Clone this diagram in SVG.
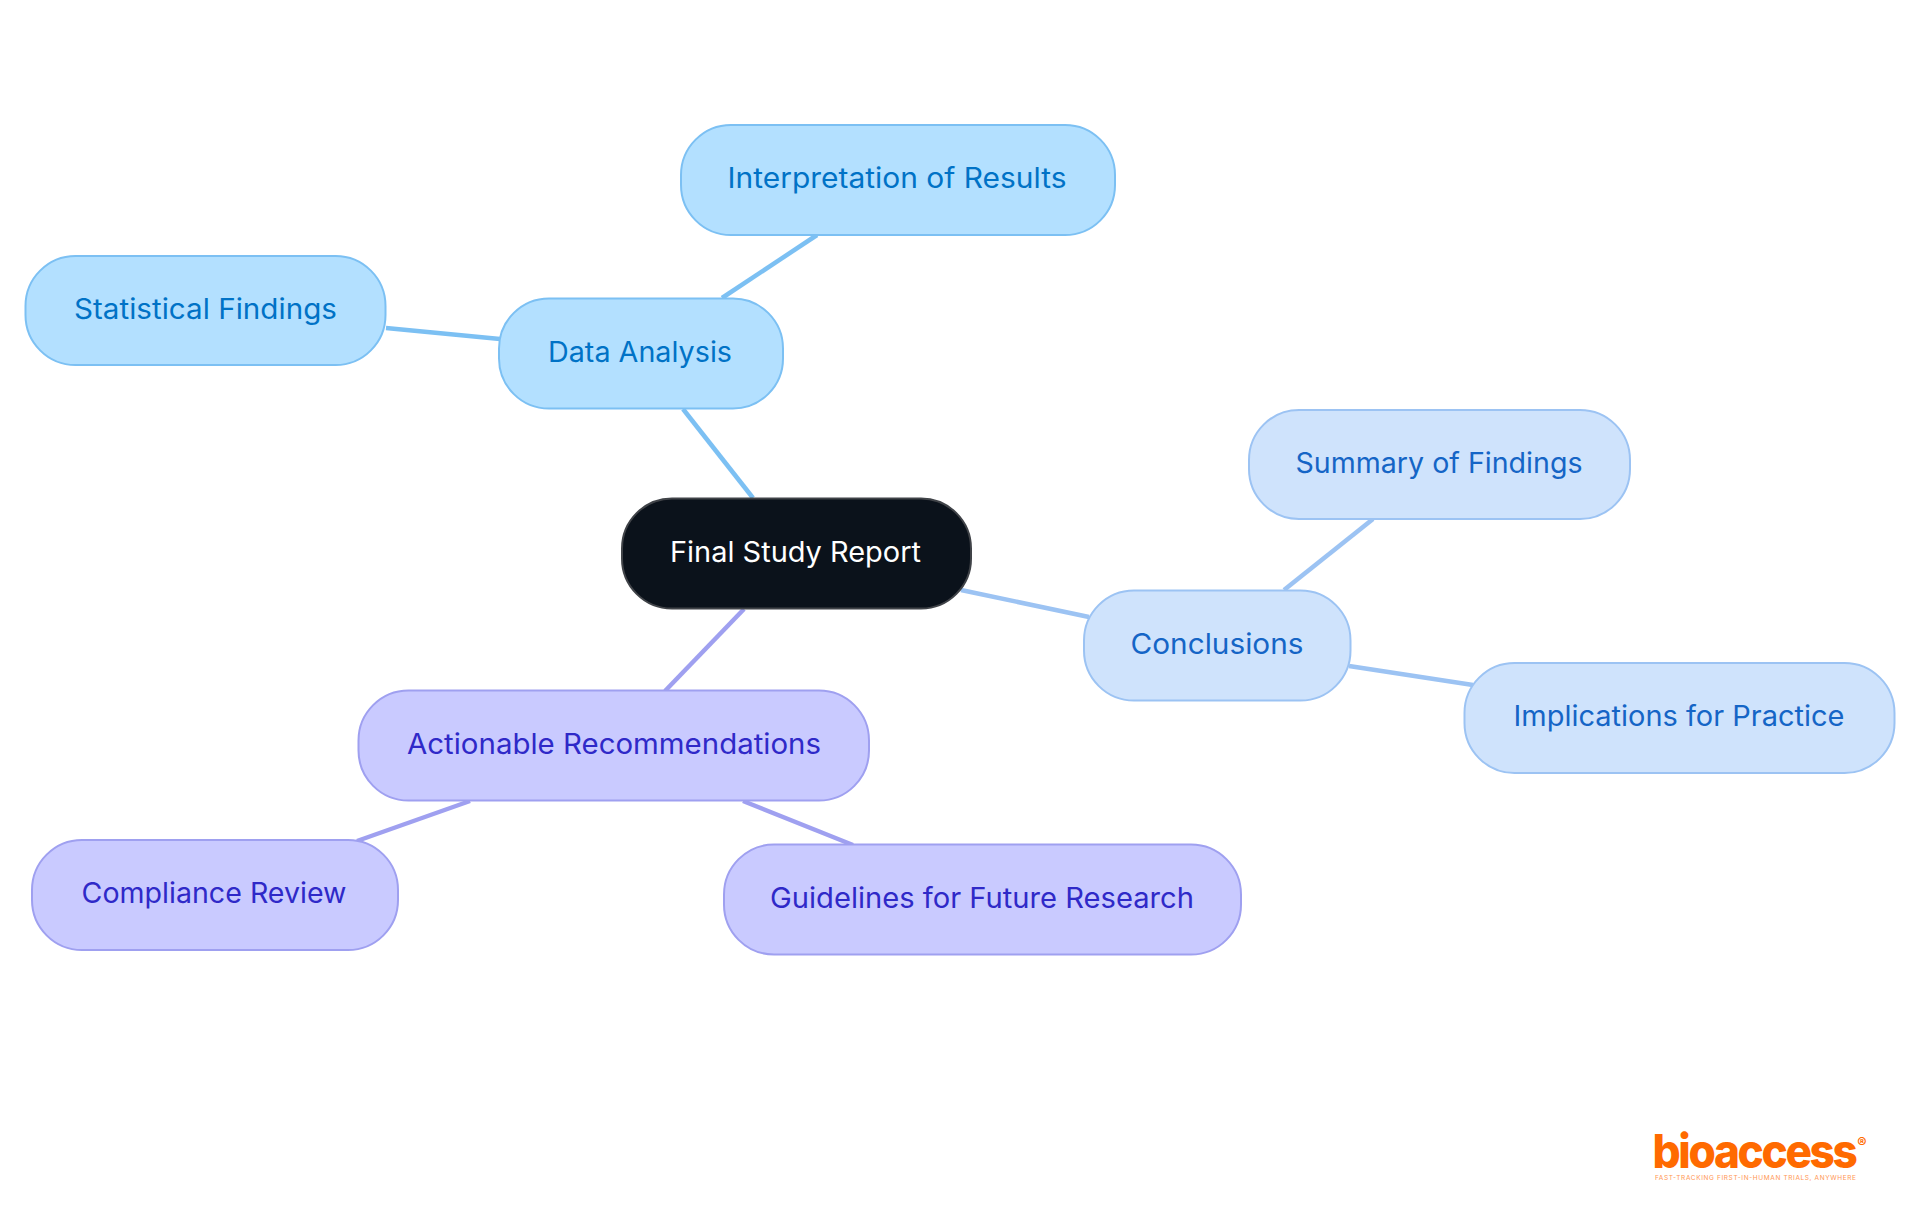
<svg xmlns="http://www.w3.org/2000/svg" width="1920" height="1215" viewBox="0 0 1920 1215">
<style>
text{font-family:Inter,"Noto Sans","Liberation Sans",sans-serif;font-size:28px;text-anchor:middle;dominant-baseline:central}
rect{stroke-width:2}
.e{fill:none;stroke-width:4.500}
.b{fill:#b3e0ff;stroke:#7cc0f3}.bt{fill:#0072c6}
.c{fill:#cfe3fc;stroke:#9cc3f3}.ct{fill:#1565c6}
.p{fill:#c9caff;stroke:#9fa0f0}.pt{fill:#2f29c8}
.be{stroke:#7cc0f3}.ce{stroke:#9cc3f3}.pe{stroke:#9fa0f0}
</style>
<rect width="1920" height="1215" fill="#fff" style="stroke:none"/>
<g id="connectors">
<path class="e be" d="M683 409L753 498"/>
<path class="e be" d="M722 298L817 235"/>
<path class="e be" d="M386 328L500 339"/>
<path class="e ce" d="M961 590L1089 617"/>
<path class="e ce" d="M1284 590L1373 519"/>
<path class="e ce" d="M1349 666L1473 685"/>
<path class="e pe" d="M744 609L665 691"/>
<path class="e pe" d="M470 801L357 841"/>
<path class="e pe" d="M743 801L853 845"/>
</g>
<g id="n-final"><rect x="622" y="498.500" width="349" height="110" rx="50" fill="#0b121b" stroke="#404348"/><text x="795.500" y="552" fill="#fff" textLength="251" lengthAdjust="spacingAndGlyphs">Final Study Report</text></g>
<g id="n-data"><rect class="b" x="499" y="298.500" width="284" height="110" rx="50"/><text class="bt" x="640" y="352" textLength="184" lengthAdjust="spacingAndGlyphs">Data Analysis</text></g>
<g id="n-interp"><rect class="b" x="681" y="125" width="434" height="110" rx="50"/><text class="bt" x="897" y="178" textLength="339" lengthAdjust="spacingAndGlyphs">Interpretation of Results</text></g>
<g id="n-stat"><rect class="b" x="25.500" y="256" width="360" height="109" rx="50"/><text class="bt" x="205.500" y="309" textLength="263" lengthAdjust="spacingAndGlyphs">Statistical Findings</text></g>
<g id="n-concl"><rect class="c" x="1084" y="590.500" width="266.500" height="110" rx="50"/><text class="ct" x="1217" y="644" textLength="173" lengthAdjust="spacingAndGlyphs">Conclusions</text></g>
<g id="n-summary"><rect class="c" x="1249" y="410" width="381" height="109" rx="50"/><text class="ct" x="1439" y="463" textLength="287" lengthAdjust="spacingAndGlyphs">Summary of Findings</text></g>
<g id="n-impl"><rect class="c" x="1464.500" y="663" width="430" height="110" rx="50"/><text class="ct" x="1679" y="716" textLength="331" lengthAdjust="spacingAndGlyphs">Implications for Practice</text></g>
<g id="n-action"><rect class="p" x="358.500" y="690.500" width="510.500" height="110" rx="50"/><text class="pt" x="614" y="744" textLength="414" lengthAdjust="spacingAndGlyphs">Actionable Recommendations</text></g>
<g id="n-compliance"><rect class="p" x="32" y="840" width="366" height="110" rx="50"/><text class="pt" x="214" y="893" textLength="265" lengthAdjust="spacingAndGlyphs">Compliance Review</text></g>
<g id="n-guidelines"><rect class="p" x="724" y="844.500" width="517" height="110" rx="50"/><text class="pt" x="982" y="898" textLength="424" lengthAdjust="spacingAndGlyphs">Guidelines for Future Research</text></g>
<g id="logo">
<text x="1754" y="1168" style="font-size:47px;font-weight:800;letter-spacing:-2.500px;dominant-baseline:auto" fill="#ff6a00" textLength="203" lengthAdjust="spacingAndGlyphs">bioaccess</text>
<text x="1862" y="1142" style="font-size:14px;font-weight:700" fill="#ff6a00">®</text>
<text x="1755.500" y="1177.500" style="font-size:6.500px" fill="#ff6a00" opacity="0.7" textLength="201" lengthAdjust="spacing">FAST-TRACKING FIRST-IN-HUMAN TRIALS, ANYWHERE</text>
</g>
</svg>
